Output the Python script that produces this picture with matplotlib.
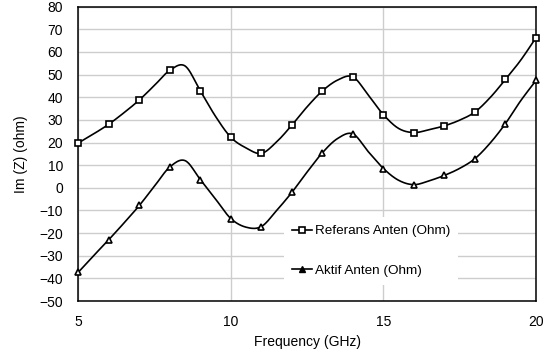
import numpy as np
import matplotlib
matplotlib.use('Agg')
import matplotlib.pyplot as plt

plt.rcParams['font.family'] = ['Liberation Sans', 'DejaVu Sans']

# curves every 0.5 GHz; markers sit on the whole GHz values
freq = [5, 5.5, 6, 6.5, 7, 7.5, 8, 8.5, 9, 9.5, 10, 10.5, 11, 11.5, 12, 12.5,
        13, 13.5, 14, 14.5, 15, 15.5, 16, 16.5, 17, 17.5, 18, 18.5, 19, 19.5, 20]
referans = [19.8, 23.8, 28.1, 33.2, 38.8, 45.3, 51.9, 53.8, 42.8, 31.5, 22.3, 17.6,
            15.2, 20.3, 27.7, 35.8, 42.8, 47.6, 49.0, 41.0, 32.3, 26.2, 24.4, 25.7,
            27.4, 29.9, 33.5, 39.9, 47.9, 56.4, 66.3]
aktif = [-37.3, -30.0, -22.9, -15.5, -7.8, 0.8, 9.2, 12.0, 3.6, -5.0, -13.6, -17.4,
         -17.1, -10.0, -2.0, 7.0, 15.5, 21.8, 23.8, 16.0, 8.5, 3.3, 1.4, 3.1,
         5.5, 8.6, 12.9, 19.8, 28.4, 38.5, 47.4]
labels = ['Referans Anten (Ohm)', 'Aktif Anten (Ohm)']


def smooth(x, y, n=20):
    # Excel style smoothed line: cubic bezier through each point
    x = np.asarray(x, float)
    y = np.asarray(y, float)
    xs, ys = [], []
    for i in range(len(x) - 1):
        p0 = np.array([x[max(i - 1, 0)], y[max(i - 1, 0)]])
        p1 = np.array([x[i], y[i]])
        p2 = np.array([x[i + 1], y[i + 1]])
        p3 = np.array([x[min(i + 2, len(x) - 1)], y[min(i + 2, len(x) - 1)]])
        c1 = p1 + (p2 - p0) / 6
        c2 = p2 - (p3 - p1) / 6
        t = np.linspace(0, 1, n)[:, None]
        b = (1 - t) ** 3 * p1 + 3 * (1 - t) ** 2 * t * c1 + 3 * (1 - t) * t ** 2 * c2 + t ** 3 * p2
        xs.extend(b[:, 0])
        ys.extend(b[:, 1])
    return xs, ys


fig = plt.figure(figsize=(5.46, 3.58), dpi=100)
ax = fig.add_axes([0.1434, 0.1592, 0.8383, 0.8221])

for yy, mk in [(referans, 's'), (aktif, '^')]:
    sx, sy = smooth(freq, yy)
    ax.plot(sx, sy, color='black', lw=1.2, zorder=3)
    ax.plot(freq[::2], yy[::2], ls='none', marker=mk, ms=5, mfc='white', mec='black',
            mew=1.2, zorder=4, clip_on=False)

h1, = ax.plot([], [], color='black', lw=1.2, marker='s', ms=5, mfc='white', mec='black', mew=1.2)
h2, = ax.plot([], [], color='black', lw=1.2, marker='^', ms=5, mfc='black', mec='black')
ax.legend([h1, h2], labels, loc='upper left', bbox_to_anchor=(0.45, 0.286),
          frameon=True, fancybox=False, edgecolor='none', framealpha=1, fontsize=9.7,
          labelspacing=2.0, handlelength=1.45, handletextpad=0.2, borderpad=0.6,
          borderaxespad=0)

ax.set_xlim(5, 20)
ax.set_ylim(-50, 80)
ax.set_xticks([5, 10, 15, 20])
ax.set_yticks(range(-50, 81, 10))
ax.grid(True, color='#cdcdcd', lw=1)
ax.set_axisbelow(True)
ax.tick_params(axis='y', length=0, labelsize=10, pad=11)
ax.tick_params(axis='x', length=0, labelsize=10, pad=10)
for s in ax.spines.values():
    s.set_color('black')
    s.set_linewidth(1.1)
ax.set_xlabel('Frequency (GHz)', fontsize=10, va='center')
ax.set_ylabel('Im (Z) (ohm)', fontsize=10, va='center')
ax.xaxis.set_label_coords(0.5, -0.138)
ax.yaxis.set_label_coords(-0.125, 0.5)

fig.savefig('out.png', dpi=100)
